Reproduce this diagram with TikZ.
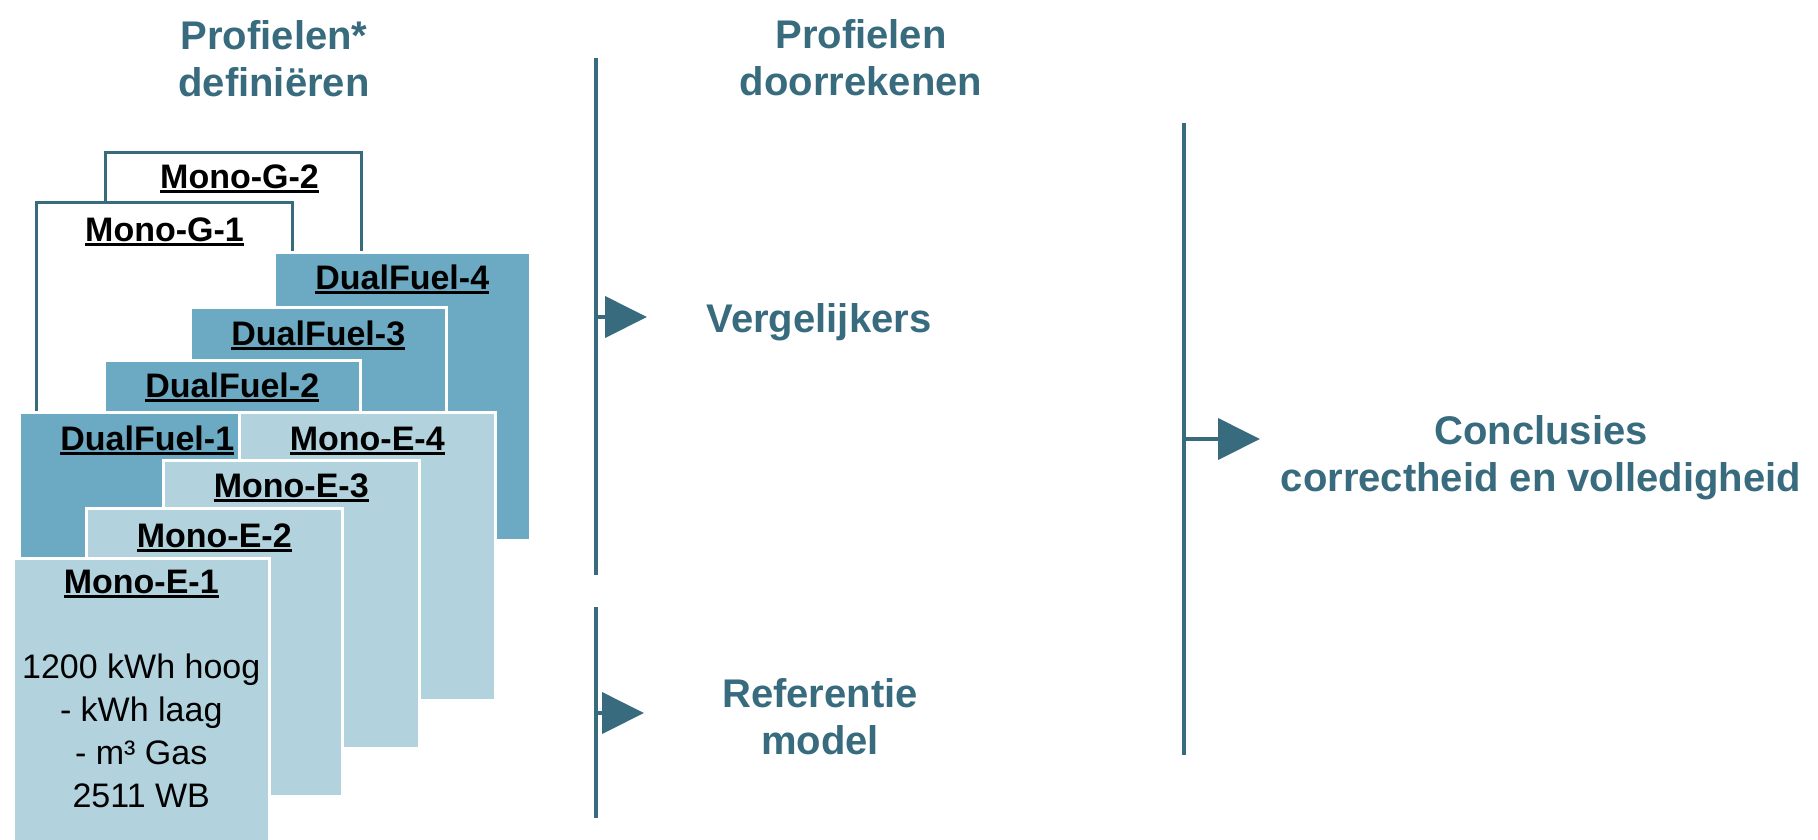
\documentclass[tikz,border=0pt]{standalone}
\usepackage{fontspec}
\setmainfont{Liberation Sans}
\definecolor{tealtext}{RGB}{55, 107, 125}
\definecolor{dualblue}{RGB}{108, 170, 195}
\definecolor{monoblue}{RGB}{178, 211, 222}
\usetikzlibrary{arrows.meta, positioning}
\newcommand{\onderstreep}[1]{\vtop{\hbox{#1}\kern1.5pt\hrule height 3.5pt}}

\begin{document}
\begin{tikzpicture}[x=1pt, y=-1pt,
  card/.style={draw=white, line width=2.5pt, minimum width=256pt,
               minimum height=288pt, anchor=north west, inner sep=0pt},
  gcard/.style={card, draw=tealtext, line width=3pt, fill=white},
  dcard/.style={card, fill=dualblue},
  ecard/.style={card, fill=monoblue},
  cardtitle/.style={font=\fontsize{34}{40}\selectfont\bfseries, anchor=base, inner sep=0pt},
  head/.style={font=\fontsize{40}{47}\selectfont\bfseries, text=tealtext,
               align=center, anchor=north, inner sep=0pt},
  bar/.style={tealtext, line width=4.5pt},
  pijl/.style={tealtext, line width=4pt, -{Triangle[length=42pt, width=41pt]}},
]
\useasboundingbox (0,0) rectangle (1818,839);

% Headers
\node[head] (kop1) at (274, 20) {Profielen*\\definiëren};
\node[head] (kop2) at (861, 19) {Profielen\\doorrekenen};

% Profile cards
\node[gcard] (mg2) at (104, 151) {};
\node[cardtitle] (mg2t) at ([xshift=6, yshift=-37]mg2.north) {\onderstreep{Mono-G-2}};
\node[gcard] (mg1) at (35, 201) {};
\node[cardtitle] (mg1t) at ([yshift=-40]mg1.north) {\onderstreep{Mono-G-1}};

\node[dcard] (df4) at (273, 251) {};
\node[cardtitle] (df4t) at ([yshift=-38]df4.north) {\onderstreep{DualFuel-4}};
\node[dcard] (df3) at (189, 306) {};
\node[cardtitle] (df3t) at ([yshift=-39]df3.north) {\onderstreep{DualFuel-3}};
\node[dcard] (df2) at (103, 359) {};
\node[cardtitle] (df2t) at ([yshift=-38]df2.north) {\onderstreep{DualFuel-2}};
\node[dcard] (df1) at (18, 411) {};
\node[cardtitle] (df1t) at ([yshift=-39]df1.north) {\onderstreep{DualFuel-1}};

\node[ecard] (me4) at (238, 411) {};
\node[cardtitle] (me4t) at ([yshift=-39]me4.north) {\onderstreep{Mono-E-4}};
\node[ecard] (me3) at (162, 459) {};
\node[cardtitle] (me3t) at ([yshift=-38]me3.north) {\onderstreep{Mono-E-3}};
\node[ecard] (me2) at (85, 507) {};
\node[cardtitle] (me2t) at ([yshift=-40]me2.north) {\onderstreep{Mono-E-2}};
\node[ecard] (me1) at (12, 557) {};
\node[cardtitle] (me1t) at ([yshift=-36]me1.north) {\onderstreep{Mono-E-1}};
\node[font=\fontsize{34}{43}\selectfont, align=center, anchor=north, inner sep=0pt]
  (me1tekst) at ([yshift=-97]me1.north) {1200 kWh hoog\\- kWh laag\\- m³ Gas\\2511 WB};

% Bars
\draw[bar] (596, 58) -- (596, 575);
\draw[bar] (596, 607) -- (596, 818);
\draw[bar] (1184, 123) -- (1184, 755);

% Arrows
\coordinate (v1) at (596, 317);
\coordinate (v2) at (596, 713);
\coordinate (v3) at (1184, 439);
\draw[pijl] (v1) -- ++(51, 0);
\draw[pijl] (v2) -- ++(48, 0);
\draw[pijl] (v3) -- ++(76, 0);

% Results
\node[head, anchor=base] (verg) at (819, 332) {Vergelijkers};
\node[head] (ref) at (820, 678) {Referentie\\model};
\node[head] (concl) at (1541, 415) {Conclusies\\correctheid en volledigheid};
\end{tikzpicture}
\end{document}
